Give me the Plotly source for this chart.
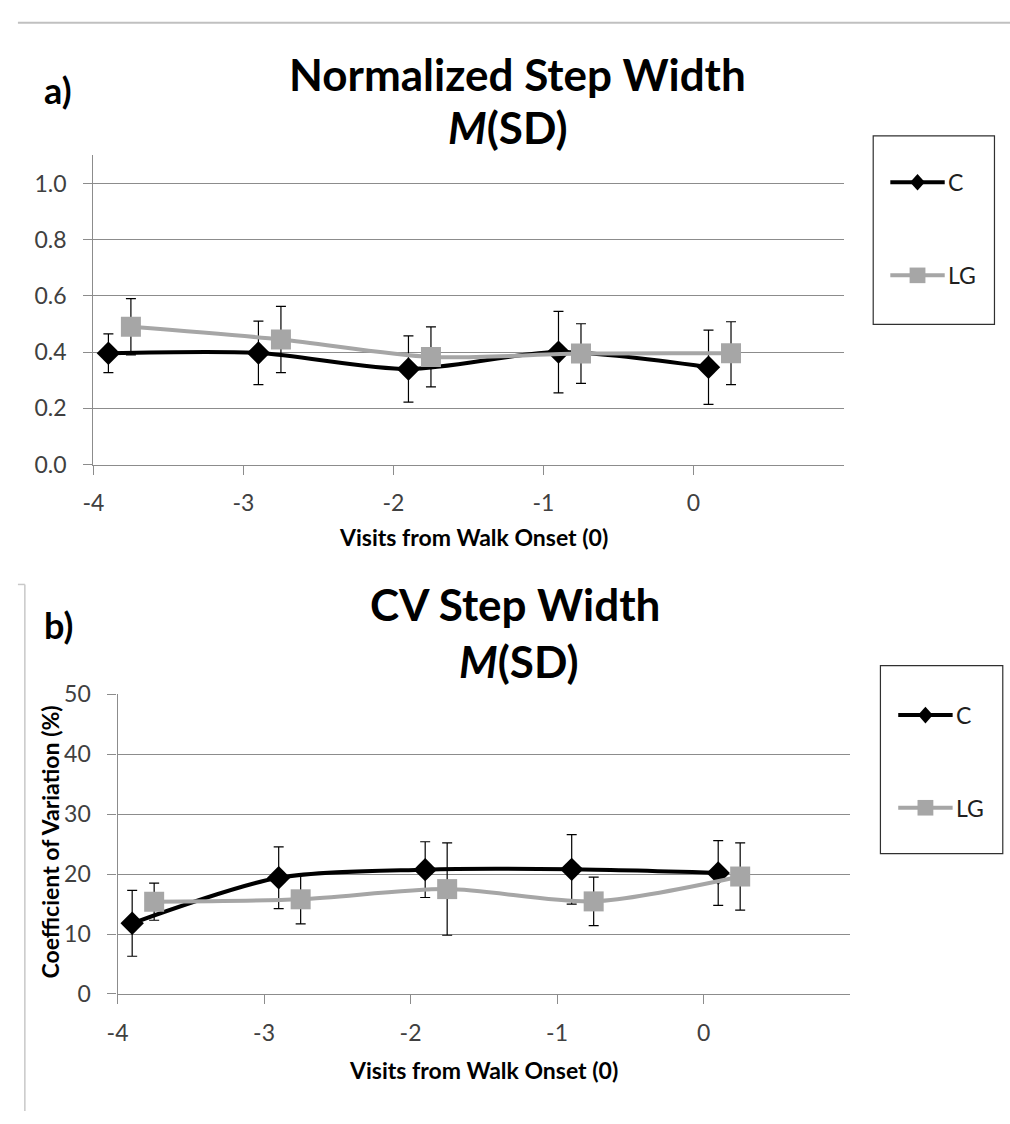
import plotly.graph_objects as go

# ---- data -------------------------------------------------------------
visits_c = [-3.9, -2.9, -1.9, -0.9, 0.1]        # C group, offset left of each visit
visits_lg = [-3.75, -2.75, -1.75, -0.75, 0.25]  # LG group, offset right of each visit

sw_c_mean = [0.396, 0.397, 0.340, 0.400, 0.346]
sw_c_sd = [0.069, 0.113, 0.118, 0.145, 0.132]
sw_lg_mean = [0.490, 0.445, 0.383, 0.395, 0.396]
sw_lg_sd = [0.100, 0.118, 0.107, 0.106, 0.112]

cv_c_mean = [11.8, 19.4, 20.75, 20.8, 20.2]
cv_c_sd = [5.5, 5.15, 4.65, 5.8, 5.4]
cv_lg_mean = [15.4, 15.8, 17.5, 15.45, 19.6]
cv_lg_sd = [3.1, 4.1, 7.7, 4.05, 5.6]

x_ticks = [-4, -3, -2, -1, 0]
x_tick_text = ["-4", "-3", "-2", "-1", "0"]
sw_ticks = [0.0, 0.2, 0.4, 0.6, 0.8, 1.0]
sw_tick_text = ["0.0", "0.2", "0.4", "0.6", "0.8", "1.0"]
cv_ticks = [0, 10, 20, 30, 40, 50]

group_names = ["C", "LG"]

# ---- page geometry ------------------------------------------------------
W, H = 1010, 1124
FONT = "Lato"
GRID = "#8c8c8c"
BLACK = "#000000"
GREY = "#a6a6a6"
TICK_COL = "#404040"


def px(x):
    return x / W


def py(y):
    return 1 - y / H


fig = go.Figure()


def add_series(xs, ys, sds, color, symbol, size, xa, ya, name):
    fig.add_trace(go.Scatter(
        x=xs, y=ys, name=name, mode="lines+markers",
        line=dict(color=color, width=4, shape="spline", smoothing=0.8),
        marker=dict(symbol=symbol, size=size, color=color),
        error_y=dict(type="data", array=sds, visible=True,
                     color=BLACK, thickness=1.2, width=5),
        xaxis=xa, yaxis=ya, showlegend=False, hoverinfo="x+y",
    ))


# panel a
add_series(visits_c, sw_c_mean, sw_c_sd, BLACK, "diamond", 18, "x", "y", group_names[0])
add_series(visits_lg, sw_lg_mean, sw_lg_sd, GREY, "square", 20, "x", "y", group_names[1])
# panel b
add_series(visits_c, cv_c_mean, cv_c_sd, BLACK, "diamond", 18, "x2", "y2", group_names[0])
add_series(visits_lg, cv_lg_mean, cv_lg_sd, GREY, "square", 20, "x2", "y2", group_names[1])

axis_common = dict(
    showline=True, linecolor=GRID, linewidth=1.3,
    ticks="outside", tickcolor=GRID, ticklen=9, tickwidth=1.3,
    tickfont=dict(family=FONT, size=23, color=TICK_COL),
    zeroline=False, fixedrange=True,
)

fig.update_layout(
    width=W, height=H,
    margin=dict(l=0, r=0, t=0, b=0),
    paper_bgcolor="white", plot_bgcolor="white",
    font=dict(family=FONT),
    xaxis=dict(domain=[px(83.3), px(841.7)], anchor="y", range=[-4, 1],
               tickvals=x_ticks, ticktext=x_tick_text, showgrid=False,
               ticklabelstandoff=9, **axis_common),
    yaxis=dict(domain=[py(461), py(144)], anchor="x", range=[0, 1.1],
               tickvals=sw_ticks, ticktext=sw_tick_text, showgrid=True,
               gridcolor=GRID, gridwidth=1.3, ticklabelstandoff=12,
               **axis_common),
    xaxis2=dict(domain=[px(107.7), px(848.3)], anchor="y2", range=[-4, 1],
                tickvals=x_ticks, ticktext=x_tick_text, showgrid=False,
                ticklabelstandoff=9, **axis_common),
    yaxis2=dict(domain=[py(1004), py(696.7)], anchor="x2", range=[0, 50],
                tickvals=cv_ticks, showgrid=True, gridcolor=GRID,
                gridwidth=1.3, ticklabelstandoff=12, **axis_common),
)

annotations = []


def text(x, y, s, size, color=BLACK, angle=0, xanchor="center"):
    annotations.append(dict(
        x=px(x), y=py(y), xref="paper", yref="paper", text=s,
        showarrow=False, xanchor=xanchor, yanchor="middle", textangle=angle,
        font=dict(family=FONT, size=size, color=color),
    ))


# panel labels and titles
text(48, 77, "<b>a)</b>", 36)
text(512, 60, "<b>Normalized Step Width</b>", 44)
text(502, 115, "<b><i>M</i>(SD)</b>", 44)
text(48, 626, "<b>b)</b>", 36)
text(510, 604, "<b>CV Step Width</b>", 44)
text(514, 662, "<b><i>M</i>(SD)</b>", 44)

# axis titles
text(468, 535, "<b>Visits from Walk Onset (0)</b>", 23)
text(478, 1082, "<b>Visits from Walk Onset (0)</b>", 23)
text(39, 848, "<b>Coefficient of Variation (%)</b>", 23, angle=-90)

shapes = []

# decorative page rules
shapes.append(dict(type="line", xref="paper", yref="paper",
                   x0=px(7), x1=px(1010), y0=py(8), y1=py(8),
                   line=dict(color="#c0c0c0", width=2)))
shapes.append(dict(type="line", xref="paper", yref="paper",
                   x0=px(14), x1=px(14), y0=py(584), y1=py(1124),
                   line=dict(color="#c8c8c8", width=1.5)))
shapes.append(dict(type="line", xref="paper", yref="paper",
                   x0=px(7), x1=px(14), y0=py(584), y1=py(584),
                   line=dict(color="#c8c8c8", width=1.5)))


def legend_box(x0, y0, x1, y1, line_x0, line_x1, yc, yg, text_x):
    shapes.append(dict(type="rect", xref="paper", yref="paper",
                       x0=px(x0), x1=px(x1), y0=py(y0), y1=py(y1),
                       line=dict(color="#303030", width=1.2),
                       fillcolor="white", layer="below"))
    xm = (line_x0 + line_x1) / 2
    # C entry
    shapes.append(dict(type="line", xref="paper", yref="paper",
                       x0=px(line_x0), x1=px(line_x1), y0=py(yc), y1=py(yc),
                       line=dict(color=BLACK, width=4)))
    d = 7.5
    shapes.append(dict(type="path", xref="paper", yref="paper",
                       path=f"M {px(xm - d)} {py(yc)} L {px(xm)} {py(yc - 8.5)} "
                            f"L {px(xm + d)} {py(yc)} L {px(xm)} {py(yc + 8.5)} Z",
                       fillcolor=BLACK, line=dict(width=0)))
    text(text_x, yc, group_names[0], 23, color="#202020", xanchor="left")
    # LG entry
    shapes.append(dict(type="line", xref="paper", yref="paper",
                       x0=px(line_x0), x1=px(line_x1), y0=py(yg), y1=py(yg),
                       line=dict(color=GREY, width=4)))
    s = 8
    shapes.append(dict(type="rect", xref="paper", yref="paper",
                       x0=px(xm - s), x1=px(xm + s), y0=py(yg - s), y1=py(yg + s),
                       fillcolor=GREY, line=dict(width=0)))
    text(text_x, yg, group_names[1], 23, color="#202020", xanchor="left")


legend_box(871.7, 124, 994.3, 317.3, 889, 944, 171.5, 267, 945)
legend_box(879, 667.3, 1002.7, 860, 897, 952, 718, 813, 953)

fig.update_layout(annotations=annotations, shapes=shapes)

# the page should have no body margin so the figure sits flush at the origin
fig.write_html("out.html",
               post_script="document.body.style.margin='0';")
